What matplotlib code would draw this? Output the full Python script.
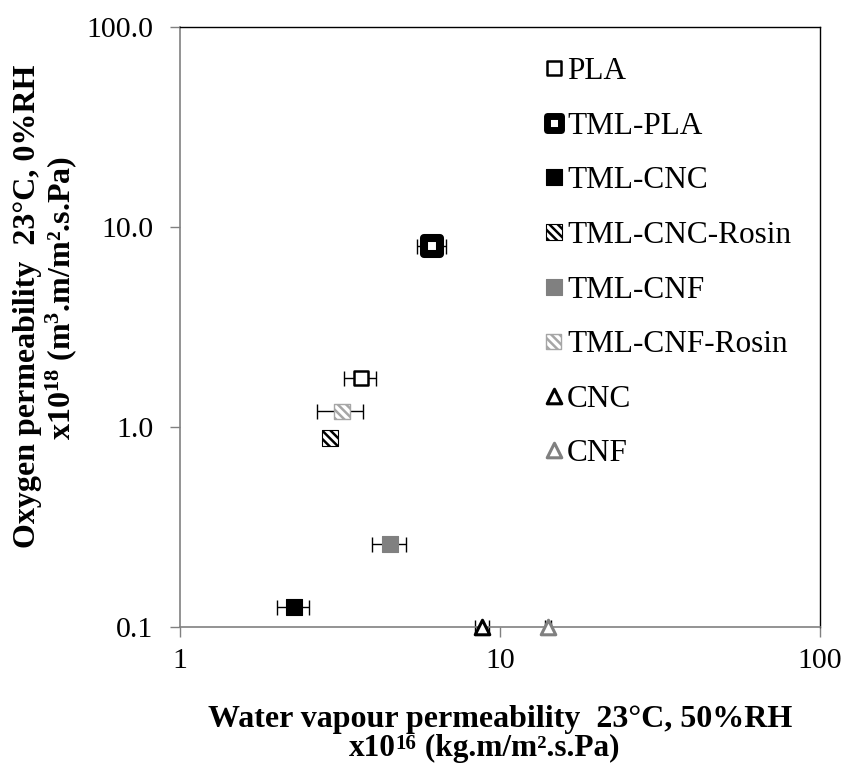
import matplotlib
matplotlib.use("Agg")
import matplotlib.pyplot as plt

# Barrier properties of the coated films
samples = ["PLA", "TML-PLA", "TML-CNC", "TML-CNC-Rosin",
           "TML-CNF", "TML-CNF-Rosin", "CNC", "CNF"]
wvp = [3.68, 6.13, 2.27, 2.94, 4.53, 3.21, 8.79, 14.1]        # x10^16 kg.m/m2.s.Pa
wvp_err = [0.43, 0.63, 0.26, 0.10, 0.55, 0.53, 0.45, 0.30]
o2p = [1.76, 8.0, 0.126, 0.88, 0.26, 1.20, 0.1, 0.1]           # x10^18 m3.m/m2.s.Pa

x_ticks = [1, 10, 100]
x_tick_labels = ["1", "10", "100"]
y_ticks = [0.1, 1, 10, 100]
y_tick_labels = ["0.1", "1.0", "10.0", "100.0"]

plt.rcParams["font.family"] = ["Liberation Serif", "DejaVu Serif"]
plt.rcParams["mathtext.fontset"] = "custom"
plt.rcParams["mathtext.rm"] = "Liberation Serif"
plt.rcParams["mathtext.bf"] = "Liberation Serif:bold"
plt.rcParams["mathtext.default"] = "bf"
plt.rcParams["hatch.linewidth"] = 1.8

GREY = "#808080"
LIGHT = "#a6a6a6"
W, H = 845, 764

# marker styles: (marker, size in pt, face, edge, linewidth, hatch)
styles = {
    "PLA":           ("s", 10.4, "white", "black", 1.8, None),
    "TML-PLA":       ("s", 12.2, "white", "black", 5.8, None),
    "TML-CNC":       ("s", 11.5, "black", "black", 0.8, None),
    "TML-CNC-Rosin": ("s", 11.5, "white", "black", 0.8, "\\\\\\\\"),
    "TML-CNF":       ("s", 11.5, GREY, GREY, 0.8, None),
    "TML-CNF-Rosin": ("s", 11.0, "white", LIGHT, 1.0, "\\\\\\\\"),
    "CNC":           ("^", 10.5, "white", "black", 2.2, None),
    "CNF":           ("^", 10.5, "white", GREY, 2.2, None),
}
legend_sizes = {"TML-PLA": (10.0, 5.0)}

fig = plt.figure(figsize=(W / 100, H / 100), dpi=100)
ax = fig.add_axes([180 / W, 1 - 627 / H, 640 / W, 600 / H])
ax.set_xscale("log")
ax.set_yscale("log")
ax.set_xlim(1, 100)
ax.set_ylim(0.1, 100)

ax.errorbar(wvp, o2p, xerr=wvp_err, fmt="none", ecolor="black",
            elinewidth=1.0, capsize=5.4, capthick=1.0, zorder=2, clip_on=False)

handles = []
for name, x, y in zip(samples, wvp, o2p):
    mk, size, fc, ec, lw, hatch = styles[name]
    ax.scatter([x], [y], marker=mk, s=size ** 2, facecolor=fc, edgecolor=ec,
               linewidths=lw, hatch=hatch, zorder=3, clip_on=False,
               joinstyle="round")
    lsize, llw = legend_sizes.get(name, (size, lw))
    handles.append(ax.scatter([], [], marker=mk, s=lsize ** 2, facecolor=fc,
                              edgecolor=ec, linewidths=llw, hatch=hatch,
                              joinstyle="round", label=name))

ax.legend(handles=handles, loc="upper left",
          bbox_to_anchor=(545 / W, 1 - 57 / H),
          bbox_transform=fig.transFigure, frameon=False, fontsize=22.5,
          borderpad=0, borderaxespad=0, handlelength=0.55, handletextpad=0.16,
          labelspacing=0.82, scatterpoints=1, scatteryoffsets=[0.5])

ax.set_xticks(x_ticks)
ax.set_xticklabels(x_tick_labels)
ax.set_yticks(y_ticks)
ax.set_yticklabels(y_tick_labels)
ax.minorticks_off()
ax.tick_params(axis="both", which="major", direction="out", length=7,
               width=1.0, color=GREY, labelsize=21.5, labelcolor="black")
ax.tick_params(axis="y", pad=12)
ax.tick_params(axis="x", pad=8)

for side in ("left", "bottom"):
    ax.spines[side].set_color(GREY)
    ax.spines[side].set_linewidth(1.2)
for side in ("top", "right"):
    ax.spines[side].set_color("black")
    ax.spines[side].set_linewidth(1.0)


def text_runs(cx, baseline, runs):
    """Lay out bold text runs (text, fontsize, rise_px) centred on cx."""
    renderer = fig.canvas.get_renderer()
    items = []
    for s, fs, rise in runs:
        t = fig.text(0, 0, s, fontsize=fs, fontweight="bold",
                     ha="left", va="baseline")
        items.append((t, t.get_window_extent(renderer).width, rise))
    total = sum(w for _, w, _ in items)
    x = cx - total / 2
    for t, w, rise in items:
        t.set_position((x / W, 1 - (baseline - rise) / H))
        x += w


fig.text(500 / W, 1 - 727 / H, "Water vapour permeability  23\u00b0C, 50%RH",
         ha="center", va="baseline", fontsize=23, fontweight="bold")
text_runs(484, 756, [("x10", 22.5, 0), ("16", 15, 7),
                     (" (kg.m/m\u00b2.s.Pa)", 22.5, 0)])

fig.text(28 / W, 1 - 306 / H, "Oxygen permeability  23\u00b0C, 0%RH",
         ha="center", va="center", rotation=90, fontsize=23, fontweight="bold")
fig.text(61 / W, 1 - 298 / H, "x10$^{18}$ (m$^{3}$.m/m\u00b2.s.Pa)",
         ha="center", va="center", rotation=90, fontsize=23, fontweight="bold")

fig.savefig("out.png", dpi=100)
